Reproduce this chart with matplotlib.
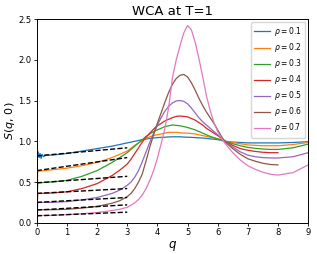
import numpy as np
import matplotlib
matplotlib.use('Agg')
import matplotlib.pyplot as plt

# density values and colours (matplotlib default cycle)
rhos = [0.1, 0.2, 0.3, 0.4, 0.5, 0.6, 0.7]
colors = ['#1f77b4', '#ff7f0e', '#2ca02c', '#d62728', '#9467bd', '#8c564b', '#e377c2']

# q grid (first point q=0 is the S=0 start of every curve)
q = [0, 0.03, 0.5, 1, 1.5, 2, 2.5, 2.75,
     3, 3.125, 3.25, 3.375, 3.5, 3.625, 3.75, 3.875, 4, 4.125, 4.25, 4.375, 4.5,
     4.625, 4.75, 4.875, 5, 5.125, 5.25, 5.375, 5.5, 5.625, 5.75, 5.875, 6, 6.125, 6.25,
     6.5, 6.75, 7, 7.25, 7.5, 7.75, 8, 8.5, 9]

# rho = 0.1 has a noisy start, its own low-q points
q_blue_low = [0, 0.02, 0.05, 0.08, 0.11, 0.14, 0.18, 0.22, 0.3]
s_blue_low = [0, 0.78, 0.87, 0.80, 0.85, 0.79, 0.84, 0.81, 0.83]

s_01 = [0, 0.82, 0.83, 0.85, 0.88, 0.91, 0.94, 0.96,
        0.98, 0.99, 1.0, 1.01, 1.02, 1.028, 1.035, 1.04, 1.045, 1.048, 1.05, 1.053, 1.055,
        1.055, 1.055, 1.052, 1.05, 1.048, 1.045, 1.042, 1.04, 1.035, 1.03, 1.025, 1.02, 1.01, 1.0,
        0.99, 0.985, 0.98, 0.98, 0.98, 0.98, 0.98, 0.985, 0.995]
s_02 = [0, 0.63, 0.65, 0.67, 0.70, 0.74, 0.80, 0.84,
        0.88, 0.915, 0.95, 0.98, 1.01, 1.035, 1.055, 1.07, 1.08, 1.09, 1.10, 1.11, 1.11,
        1.11, 1.105, 1.10, 1.10, 1.095, 1.09, 1.08, 1.07, 1.06, 1.05, 1.04, 1.03, 1.015, 1.0,
        0.985, 0.97, 0.955, 0.95, 0.945, 0.945, 0.945, 0.96, 0.985]
s_03 = [0, 0.49, 0.50, 0.52, 0.57, 0.64, 0.74, 0.80,
        0.86, 0.90, 0.94, 0.98, 1.02, 1.06, 1.09, 1.12, 1.14, 1.16, 1.18, 1.19, 1.20,
        1.195, 1.19, 1.18, 1.17, 1.155, 1.14, 1.12, 1.10, 1.08, 1.06, 1.045, 1.03, 1.015, 1.0,
        0.97, 0.945, 0.925, 0.913, 0.905, 0.90, 0.90, 0.92, 0.965]
s_04 = [0, 0.36, 0.365, 0.38, 0.42, 0.48, 0.58, 0.645,
        0.72, 0.78, 0.85, 0.92, 0.99, 1.05, 1.10, 1.15, 1.19, 1.22, 1.25, 1.27, 1.29,
        1.305, 1.31, 1.305, 1.30, 1.28, 1.26, 1.23, 1.20, 1.16, 1.13, 1.10, 1.07, 1.035, 1.0,
        0.95, 0.91, 0.89, 0.875, 0.865, 0.86, 0.86, np.nan, np.nan]
s_05 = [0, 0.25, 0.25, 0.26, 0.28, 0.31, 0.36, 0.40,
        0.46, 0.50, 0.56, 0.64, 0.75, 0.87, 0.99, 1.10, 1.20, 1.29, 1.37, 1.43, 1.47,
        1.495, 1.50, 1.49, 1.46, 1.41, 1.35, 1.29, 1.24, 1.20, 1.16, 1.12, 1.08, 1.04, 1.0,
        0.93, 0.87, 0.83, 0.81, 0.80, 0.795, 0.795, 0.81, 0.86]
s_06 = [0, 0.16, 0.16, 0.165, 0.18, 0.20, 0.24, 0.27,
        0.32, 0.36, 0.42, 0.50, 0.60, 0.76, 0.93, 1.08, 1.22, 1.35, 1.48, 1.60, 1.70,
        1.77, 1.81, 1.82, 1.79, 1.72, 1.63, 1.53, 1.44, 1.36, 1.29, 1.22, 1.14, 1.06, 0.99,
        0.91, 0.84, 0.785, 0.755, 0.73, 0.715, 0.71, np.nan, np.nan]
s_07 = [0, 0.09, 0.09, 0.10, 0.11, 0.125, 0.15, 0.165,
        0.19, 0.215, 0.245, 0.285, 0.34, 0.42, 0.52, 0.64, 0.79, 0.97, 1.16, 1.42, 1.78,
        2.0, 2.17, 2.33, 2.42, 2.37, 2.22, 2.02, 1.80, 1.56, 1.38, 1.23, 1.12, 1.04, 0.97,
        0.86, 0.77, 0.70, 0.655, 0.62, 0.595, 0.585, 0.615, 0.71]
curves = [s_01, s_02, s_03, s_04, s_05, s_06, s_07]

# small-q fits (dashed), values at q=0 and q=3
fit_q = [0, 3]
fit_start = [0.82, 0.64, 0.49, 0.36, 0.25, 0.156, 0.085]
fit_end = [0.92, 0.80, 0.57, 0.42, 0.31, 0.22, 0.13]

plt.rcParams['font.family'] = 'DejaVu Sans'
fig = plt.figure(figsize=(3.17, 2.54), dpi=100)
ax = fig.add_axes([0.116, 0.123, 0.856, 0.802])

for i, (rho, s) in enumerate(zip(rhos, curves)):
    if i == 0:
        qq = q_blue_low + q[2:]
        ss = s_blue_low + s[2:]
    else:
        qq, ss = q, s
    ax.plot(qq, ss, color=colors[i], lw=0.9, label=r'$\rho = %.1f$' % rho)

for a, b in zip(fit_start, fit_end):
    ax.plot(fit_q, [a, b], 'k--', lw=1.0)

ax.set_xlim(0, 9)
ax.set_ylim(0, 2.5)
ax.set_xticks(np.arange(0, 10, 1))
ax.set_yticks([0.0, 0.5, 1.0, 1.5, 2.0, 2.5])
ax.tick_params(labelsize=6, length=2.5, width=0.6, pad=1.5)
for sp in ax.spines.values():
    sp.set_linewidth(0.7)
ax.set_xlabel(r'$q$', fontsize=8.5, labelpad=1)
ax.set_ylabel(r'$S(q,\,0)$', fontsize=8)
ax.yaxis.set_label_coords(-0.072, 0.5)
ax.set_title('WCA at T=1', fontsize=9.5, pad=3)
ax.legend(loc='upper right', fontsize=5.5, handlelength=2.0, labelspacing=0.4,
          borderaxespad=0.4, borderpad=0.4, handletextpad=0.6)

fig.savefig('out.png', dpi=100)
